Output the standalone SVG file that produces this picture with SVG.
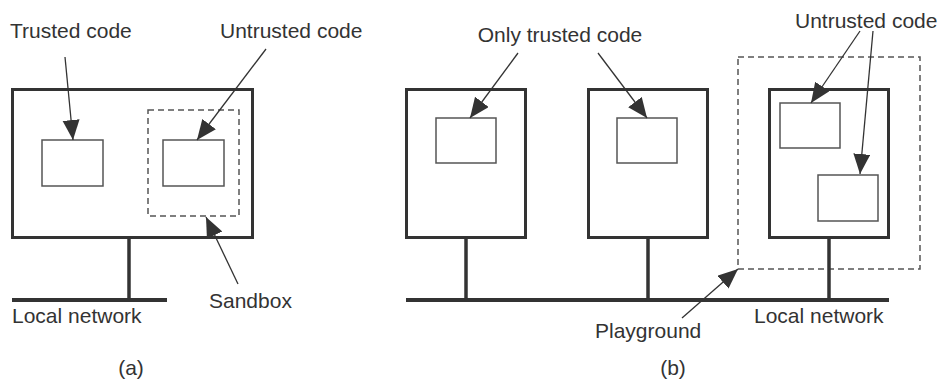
<svg xmlns="http://www.w3.org/2000/svg" width="942" height="387" viewBox="0 0 942 387">
  <style>
    text { font-family: "Liberation Sans", Arial, sans-serif; font-size: 21px; fill: #333; }
    .host { fill: #fff; stroke: #333; stroke-width: 3; }
    .code { fill: #fff; stroke: #555; stroke-width: 1.5; }
    .zone { fill: none; stroke: #555; stroke-width: 1.5; stroke-dasharray: 6 4; }
    .stem { stroke: #333; stroke-width: 3.5; }
    .net { stroke: #333; stroke-width: 4; }
    .ptr { stroke: #333; stroke-width: 1.3; fill: none; marker-end: url(#head); }
  </style>
  <defs>
    <marker id="head" markerUnits="userSpaceOnUse" markerWidth="21" markerHeight="18" refX="20" refY="8.5" orient="auto">
      <path d="M0,0 L20,8.5 L0,17 Z" fill="#333"/>
    </marker>
  </defs>

  <!-- (a) single host with a sandbox -->
  <g id="a-network">
    <line class="net" x1="12" y1="300" x2="167" y2="300"/>
    <text x="12" y="323">Local network</text>
  </g>
  <g id="a-host">
    <line class="stem" x1="129" y1="239" x2="129" y2="300"/>
    <rect class="host" x="12.5" y="89.5" width="240" height="148"/>
  </g>
  <g id="a-trusted">
    <rect class="code" x="42" y="140" width="61" height="46"/>
    <text x="10" y="38">Trusted code</text>
  </g>
  <g id="a-sandbox">
    <rect class="zone" x="148" y="110" width="91" height="106"/>
    <text x="209" y="308">Sandbox</text>
  </g>
  <g id="a-untrusted">
    <rect class="code" x="163" y="140" width="61" height="46"/>
    <text x="220" y="38">Untrusted code</text>
  </g>
  <text id="a-caption" x="131" y="375" text-anchor="middle">(a)</text>

  <!-- (b) several hosts with a playground -->
  <g id="b-network">
    <line class="net" x1="406" y1="300" x2="889" y2="300"/>
    <text x="754" y="323">Local network</text>
  </g>
  <g id="b-host1">
    <line class="stem" x1="466" y1="239" x2="466" y2="300"/>
    <rect class="host" x="406.5" y="89.5" width="119" height="148"/>
    <rect class="code" x="436" y="118" width="60" height="45"/>
  </g>
  <g id="b-host2">
    <line class="stem" x1="648" y1="239" x2="648" y2="300"/>
    <rect class="host" x="588.5" y="89.5" width="119" height="148"/>
    <rect class="code" x="617" y="118" width="60" height="45"/>
  </g>
  <g id="b-playground">
    <rect class="zone" x="738" y="57" width="182" height="212"/>
    <text x="595" y="338">Playground</text>
  </g>
  <g id="b-host3">
    <line class="stem" x1="829" y1="239" x2="829" y2="300"/>
    <rect class="host" x="769.5" y="89.5" width="119" height="148"/>
    <rect class="code" x="780" y="103" width="60" height="45"/>
    <rect class="code" x="818" y="175" width="60" height="46"/>
  </g>
  <text id="b-trusted-label" x="560" y="42" text-anchor="middle">Only trusted code</text>
  <text id="b-untrusted-label" x="795" y="28">Untrusted code</text>
  <text id="b-caption" x="673" y="375" text-anchor="middle">(b)</text>

  <!-- pointers from labels -->
  <g id="connectors">
    <line class="ptr" x1="65" y1="57" x2="73" y2="140"/>
    <line class="ptr" x1="266" y1="49" x2="197" y2="140"/>
    <line class="ptr" x1="238" y1="284" x2="206" y2="217"/>
    <line class="ptr" x1="518" y1="53" x2="470" y2="118"/>
    <line class="ptr" x1="598" y1="53" x2="647" y2="118"/>
    <line class="ptr" x1="860" y1="31" x2="811" y2="103"/>
    <line class="ptr" x1="873" y1="31" x2="860" y2="174"/>
    <line class="ptr" x1="682" y1="318" x2="738" y2="269"/>
  </g>
</svg>
